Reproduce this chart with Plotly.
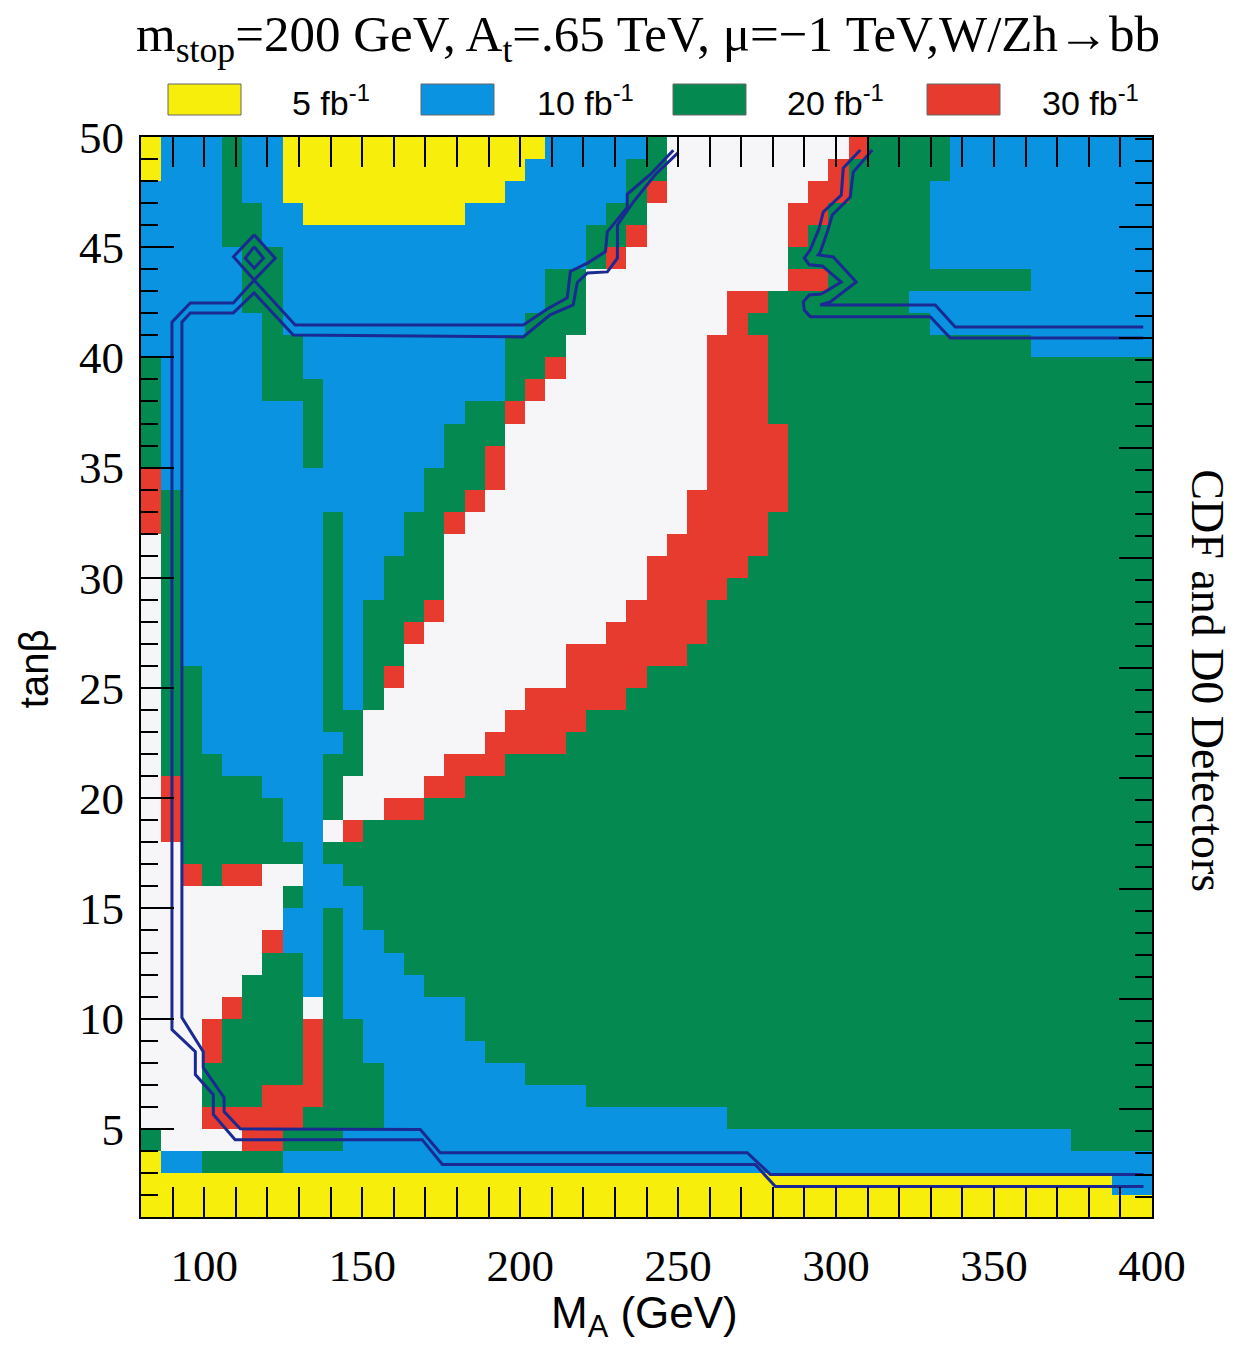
import plotly.graph_objects as go

# ---------------- data ----------------
MA_MIN, MA_MAX, MA_STEP = 80.0, 400.0, 6.4
TB_MIN, TB_MAX, TB_STEP = 1.0, 50.0, 1.0

# category code per cell, listed column by column (MA increasing),
# each column given as runs from the top row (tanb 49-50) downwards.
COLUMN_RUNS = [
    "Y2 B8 G5 R3 W27 G1 Y3",
    "B16 G13 R3 W14 B1 Y2",
    "B24 G9 R1 W12 B1 Y2",
    "B28 G6 W6 R2 G2 R1 W1 G1 Y2",
    "G5 B24 G4 R1 W5 R1 G4 R1 W1 G1 Y2",
    "B3 G5 B21 G4 R1 W4 G6 R2 G1 Y2",
    "B5 G7 B18 G3 W3 R1 G6 R3 G1 Y2",
    "Y3 B6 G3 B20 G1 W1 G1 B2 G6 R2 G1 B1 Y2",
    "Y4 B7 G4 B24 W1 R4 G2 B1 Y2",
    "Y4 B13 G10 B1 G3 W1 G1 B2 G11 B1 Y2",
    "Y4 B22 G3 W2 R1 G2 B6 G5 B2 Y2",
    "Y4 B17 G5 W5 G5 B6 G3 B2 Y2",
    "Y4 B15 G5 R1 W5 R1 G6 B10 Y2",
    "Y4 B13 G5 R1 W7 R1 G7 B9 Y2",
    "Y4 B11 G6 R1 W7 R1 G9 B8 Y2",
    "Y4 B9 G4 R1 W10 R2 G9 B8 Y2",
    "Y3 B9 G4 R1 W11 R1 G12 B6 Y2",
    "Y3 B9 G2 R2 W11 R2 G13 B5 Y2",
    "Y2 B7 G3 R1 W13 R2 G14 B5 Y2",
    "Y1 B7 G3 R1 W13 R3 G15 B4 Y2",
    "B6 G4 R1 W14 R3 G15 B4 Y2",
    "B6 G3 W14 R4 G16 B4 Y2",
    "B4 G2 W17 R3 G18 B3 Y2",
    "B3 G2 R1 W16 R4 G18 B3 Y2",
    "B1 G3 R1 W16 R4 G19 B3 Y2",
    "G2 R1 W16 R5 G20 B3 Y2",
    "W18 R6 G20 B3 Y2",
    "W16 R7 G21 B3 Y2",
    "W9 R12 G23 B3 Y2",
    "W7 R13 G25 B2 Y2",
    "W7 R1 G1 R10 G26 B2 Y2",
    "W7 G6 R4 G28 B2 Y2",
    "W3 R2 G1 R1 G38 B2 Y2",
    "W2 R2 G2 R1 G38 B2 Y2",
    "W1 R2 G42 B2 Y2",
    "R1 G44 B2 Y2",
    "G45 B2 Y2",
    "G45 B2 Y2",
    "G7 B1 G37 B2 Y2",
    "G2 B4 G1 B2 G36 B2 Y2",
    "B6 G1 B2 G36 B2 Y2",
    "B6 G1 B2 G36 B2 Y2",
    "B6 G1 B2 G36 B2 Y2",
    "B6 G1 B2 G36 B2 Y2",
    "B10 G35 B2 Y2",
    "B10 G35 B2 Y2",
    "B10 G36 B1 Y2",
    "B10 G36 B1 Y2",
    "B10 G36 B2 Y1",
    "B10 G36 B2 Y1",
]

LEGEND_LABELS = ["5 fb<sup>-1</sup>", "10 fb<sup>-1</sup>", "20 fb<sup>-1</sup>", "30 fb<sup>-1</sup>"]
CATEGORY_ORDER = ["W", "Y", "B", "G", "R"]

# double contour line (W/Zh -> bb reach), left contour
C1_OUTER_MA = [248.5, 241.2, 233.9, 233.9, 227.6, 227.0, 221.6, 215.9, 214.9, 208.6, 201.0, 128.8,
               115.8, 109.2, 95.6, 89.8, 89.8, 97.2, 97.2, 102.9, 102.9, 109.8, 169.0, 175.4, 274.4, 280.8, 397.3]
C1_OUTER_TB = [49.4, 48.3, 47.4, 46.8, 45.7, 44.8, 44.3, 43.9, 42.7, 42.2, 41.47, 41.47,
               43.5, 42.47, 42.47, 41.6, 9.5, 8.5, 7.46, 6.55, 5.65, 4.51, 4.51, 3.38, 3.38, 2.38, 2.38]
C1_INNER_MA = [250.1, 242.8, 235.8, 230.8, 230.8, 227.6, 221.3, 218.1, 216.8, 209.5, 201.0, 128.2,
               115.8, 109.2, 95.6, 92.95, 92.95, 99.7, 99.7, 106.3, 106.3, 111.4, 168.4, 174.7, 271.9, 279.2, 397.3]
C1_INNER_TB = [49.3, 48.3, 47.05, 46.0, 44.5, 43.88, 43.83, 43.4, 42.38, 41.93, 40.93, 41.02,
               42.93, 42.02, 42.02, 41.6, 10.05, 8.5, 7.78, 6.42, 5.78, 5.0, 4.97, 3.92, 3.92, 2.93, 2.93]
# small closed loop
LOOP_OUTER_MA = [115.83, 109.28, 115.83, 122.48, 115.83]
LOOP_OUTER_TB = [45.56, 44.57, 43.51, 44.50, 45.56]
LOOP_INNER_MA = [115.83, 112.98, 115.83, 118.78, 115.83]
LOOP_INNER_TB = [45.02, 44.50, 44.05, 44.50, 45.02]
# right contour
C2_A_MA = [307.66, 302.28, 301.65, 295.95, 294.68, 291.84, 289.94, 291.52, 295.63, 301.65, 295.31,
           291.52, 289.63, 289.94, 291.84, 329.81, 336.14, 397.23]
C2_A_TB = [49.41, 48.59, 47.37, 46.60, 45.87, 44.88, 44.51, 44.20, 44.15, 43.42, 42.88,
           42.83, 42.52, 42.15, 41.85, 41.85, 40.88, 40.88]
C2_B_MA = [311.45, 305.44, 304.49, 298.80, 297.22, 295.00, 294.37, 299.12, 306.39, 298.17, 295.00,
           331.39, 337.72, 397.23]
C2_B_TB = [49.41, 48.41, 47.28, 46.46, 45.69, 44.78, 44.65, 44.56, 43.42, 42.52, 42.38,
           42.38, 41.38, 41.38]

# ---------------- build grid ----------------
n_cols = len(COLUMN_RUNS)
n_rows = int(round((TB_MAX - TB_MIN) / TB_STEP))
x_edges = [MA_MIN + MA_STEP * i for i in range(n_cols + 1)]
y_edges = [TB_MIN + TB_STEP * j for j in range(n_rows + 1)]

columns = []
for runs in COLUMN_RUNS:
    cells = []
    for tok in runs.split():
        cells += [CATEGORY_ORDER.index(tok[0])] * int(tok[1:])
    assert len(cells) == n_rows, (runs, len(cells))
    columns.append(cells[::-1])  # bottom -> top
z = [[columns[c][r] for c in range(n_cols)] for r in range(n_rows)]

WHITE, YELLOW, BLUE, GREEN, RED = "#f6f6f8", "#f7ee0c", "#0a93e0", "#048a50", "#e63b2e"
cols = [WHITE, YELLOW, BLUE, GREEN, RED]
cscale = []
for i, c in enumerate(cols):
    cscale.append([i / 5, c])
    cscale.append([(i + 1) / 5, c])

LINE = "#1a2a92"
SERIF = "Liberation Serif"
SANS = "Liberation Sans"

fig = go.Figure()
fig.add_trace(go.Heatmap(x=x_edges, y=y_edges, z=z, colorscale=cscale, zmin=-0.5, zmax=4.5,
                         showscale=False, hoverinfo="skip"))
for xs, ys in [(C1_OUTER_MA, C1_OUTER_TB), (C1_INNER_MA, C1_INNER_TB),
               (LOOP_OUTER_MA, LOOP_OUTER_TB), (LOOP_INNER_MA, LOOP_INNER_TB),
               (C2_A_MA, C2_A_TB), (C2_B_MA, C2_B_TB)]:
    fig.add_trace(go.Scatter(x=xs, y=ys, mode="lines", line=dict(color=LINE, width=3),
                             showlegend=False, hoverinfo="skip"))
fig.add_trace(go.Scatter(x=[None], y=[None], yaxis="y2", showlegend=False))

fig.update_layout(
    width=1236, height=1346,
    margin=dict(l=141, r=84, t=137, b=129),
    paper_bgcolor="white", plot_bgcolor="white",
    xaxis=dict(range=[MA_MIN, MA_MAX], tickvals=[100, 150, 200, 250, 300, 350, 400],
               ticks="inside", ticklen=30, tickwidth=2, tickcolor="black",
               minor=dict(dtick=10, tick0=0, ticks="inside", ticklen=15, tickwidth=2, tickcolor="black", showgrid=False),
               showline=True, linecolor="black", linewidth=2, mirror="allticks",
               showgrid=False, zeroline=False, tickfont=dict(family=SERIF, size=45, color="black"),
               ticklabelstandoff=8),
    yaxis=dict(range=[TB_MIN, TB_MAX], tickvals=[5, 10, 15, 20, 25, 30, 35, 40, 45, 50],
               ticks="inside", ticklen=33, tickwidth=2, tickcolor="black",
               minor=dict(dtick=1, tick0=0, ticks="inside", ticklen=17, tickwidth=2, tickcolor="black", showgrid=False),
               showline=True, linecolor="black", linewidth=2, mirror=True,
               showgrid=False, zeroline=False, tickfont=dict(family=SERIF, size=45, color="black"),
               ticklabelstandoff=6),
    yaxis2=dict(overlaying="y", side="right", range=[TB_MIN - 0.9, TB_MAX - 0.9],
                tickvals=[5, 10, 15, 20, 25, 30, 35, 40, 45],
                ticks="inside", ticklen=33, tickwidth=2, tickcolor="black",
                minor=dict(dtick=1, tick0=0, ticks="inside", ticklen=17, tickwidth=2, tickcolor="black", showgrid=False),
                showticklabels=False, showgrid=False, zeroline=False, showline=False),
    showlegend=False,
)

annotations = [
    dict(text="m<sub>stop</sub>=200 GeV, A<sub>t</sub>=.65 TeV, \u03bc=\u22121 TeV,W/Zh\u2192bb",
         x=0.5015, y=1.092, xref="paper", yref="paper", showarrow=False,
         font=dict(family=SERIF, size=51, color="black"), xanchor="center", yanchor="middle"),
    dict(text="M<sub>A</sub> (GeV)", x=0.4985, y=-0.092, xref="paper", yref="paper", showarrow=False,
         font=dict(family=SANS, size=44, color="black"), xanchor="center", yanchor="middle"),
    dict(text="tan\u03b2", x=-0.105, y=0.508, xref="paper", yref="paper", showarrow=False, textangle=-90,
         font=dict(family=SANS, size=40, color="black"), xanchor="center", yanchor="middle"),
    dict(text="CDF and D0 Detectors", x=1.0554, y=0.497, xref="paper", yref="paper", showarrow=False,
         textangle=90, font=dict(family=SERIF, size=46, color="black"), xanchor="center", yanchor="middle"),
]
shapes = []
box_left_px = [168, 421, 673, 927]
label_left_px = [290, 535, 785, 1040]
for i, lab in enumerate(LEGEND_LABELS):
    x0 = (box_left_px[i] - 141) / 1011
    x1 = (box_left_px[i] + 73 - 141) / 1011
    shapes.append(dict(type="rect", xref="paper", yref="paper", x0=x0, x1=x1,
                       y0=1 + (137 - 115) / 1080, y1=1 + (137 - 84) / 1080,
                       fillcolor=cols[i + 1], line=dict(color="#666", width=1)))
    annotations.append(dict(text=lab, x=(label_left_px[i] - 141) / 1011, y=1 + (137 - 100) / 1080,
                            xref="paper", yref="paper", showarrow=False, xanchor="left", yanchor="middle",
                            font=dict(family=SANS, size=34, color="black")))
fig.update_layout(annotations=annotations, shapes=shapes)

fig.write_html("out.html")
